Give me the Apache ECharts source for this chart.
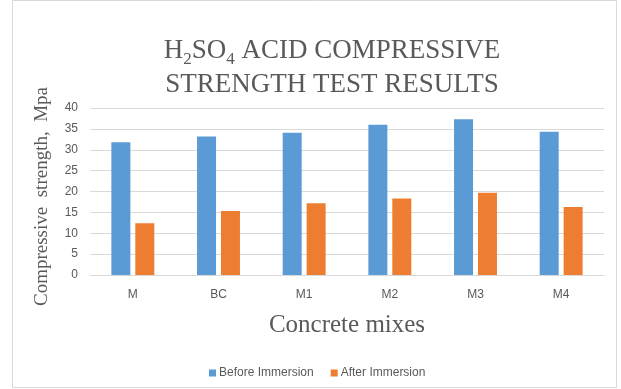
<!DOCTYPE html>
<html><head><meta charset="utf-8">
<script src="https://cdn.jsdelivr.net/npm/echarts@6/dist/echarts.min.js"></script>
<style>html,body{margin:0;padding:0;background:#fff}#c{width:621px;height:389px}</style>
</head><body><div id="c"></div>
<script>
const categories = ['M', 'BC', 'M1', 'M2', 'M3', 'M4'];
const beforeImmersion = [31.8, 33.2, 34.1, 36.0, 37.3, 34.3];
const afterImmersion = [12.4, 15.3, 17.2, 18.3, 19.7, 16.3];
const seriesNames = ['Before Immersion', 'After Immersion'];
const yTicks = { min: 0, max: 40, interval: 5 };

const serif = '"Liberation Serif", "Times New Roman", serif';
const sans = '"Liberation Sans Narrow", "Liberation Sans", Arial, sans-serif';
const gray = '#595959';

const chart = echarts.init(document.getElementById('c'), null, { renderer: 'canvas' });
chart.setOption({
  animation: false,
  backgroundColor: '#fff',
  graphic: [{
    type: 'rect', shape: { x: 12.5, y: 0.5, width: 604, height: 387 },
    style: { fill: 'none', stroke: '#d9d9d9', lineWidth: 1 }, silent: true
  }],
  title: {
    left: 327, top: 29, textAlign: 'center',
    text: '{a|H}{s|2}{a|SO}{s|4}{a| ACID COMPRESSIVE}\n{a|STRENGTH TEST RESULTS}',
    textStyle: {
      fontWeight: 'normal',
      rich: {
        a: { fontFamily: serif, fontSize: 27, fontWeight: 'normal', color: gray, lineHeight: 34 },
        s: { fontFamily: serif, fontSize: 17, fontWeight: 'normal', color: gray, lineHeight: 17, verticalAlign: 'bottom' }
      }
    }
  },
  legend: {
    left: 204, top: 362, itemWidth: 7, itemHeight: 7, itemGap: 17,
    icon: 'rect',
    textStyle: { fontFamily: sans, fontSize: 12, color: gray, padding: [0, 0, 0, -2] },
    data: seriesNames
  },
  grid: { left: 90, right: 17, top: 108, bottom: 114, containLabel: false },
  xAxis: {
    type: 'category', data: categories,
    axisLine: { lineStyle: { color: '#d9d9d9' } },
    axisTick: { show: false },
    axisLabel: { fontFamily: sans, fontSize: 12, color: gray, margin: 14 },
    name: 'Concrete mixes', nameLocation: 'middle', nameGap: 38,
    nameTextStyle: { fontFamily: serif, fontSize: 25, color: gray }
  },
  yAxis: {
    type: 'value', min: yTicks.min, max: yTicks.max, interval: yTicks.interval,
    axisLine: { show: false }, axisTick: { show: false },
    splitLine: { lineStyle: { color: '#d9d9d9' } },
    axisLabel: { fontFamily: sans, fontSize: 12, color: gray, margin: 12 },
    name: 'Compressive  strength,  Mpa', nameLocation: 'middle', nameGap: 38, nameRotate: 90,
    nameTextStyle: { fontFamily: serif, fontSize: 19, color: gray, padding: [0, 10, 0, 0] }
  },
  series: [
    { name: seriesNames[0], type: 'bar', data: beforeImmersion, barWidth: 19, barGap: '26%',
      itemStyle: { color: '#5B9BD5' } },
    { name: seriesNames[1], type: 'bar', data: afterImmersion, barWidth: 19,
      itemStyle: { color: '#ED7D31' } }
  ]
});
</script></body></html>
